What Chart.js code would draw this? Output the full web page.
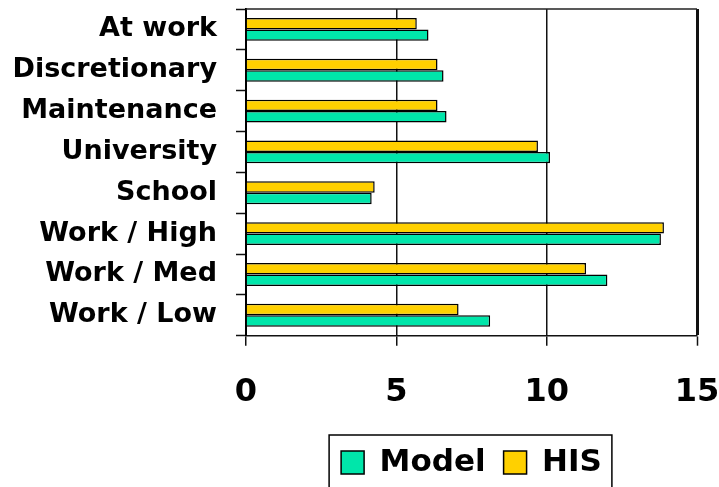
<!DOCTYPE html>
<html>
<head>
<meta charset="utf-8">
<script src="https://cdn.jsdelivr.net/npm/chart.js@4/dist/chart.umd.min.js"></script>
<style>
html,body{margin:0;padding:0;background:#fff;}
#wrap{width:719px;height:487px;position:relative;}
</style>
</head>
<body>
<div id="wrap"><canvas id="c" width="719" height="487"></canvas></div>
<script>
const categories = ["At work","Discretionary","Maintenance","University","School","Work / High","Work / Med","Work / Low"];
const modelValues = [6.07, 6.57, 6.67, 10.11, 4.18, 13.8, 12.02, 8.12];
const hisValues   = [5.68, 6.37, 6.37, 9.71, 4.28, 13.9, 11.31, 7.07];
const xTicks = [0, 5, 10, 15];

const frame = {
  id: 'frame',
  beforeDraw(chart) {
    const lg = chart.legend;
    const a = chart.chartArea;
    if (lg) {
      lg.left = a.left; lg.right = a.right; lg.width = a.right - a.left;
      lg.adjustHitBoxes();
    }
  },
  afterDraw(chart) {
    const {ctx, chartArea: a} = chart;
    ctx.save();
    ctx.strokeStyle = '#222';
    ctx.lineWidth = 1.5;
    ctx.beginPath();
    ctx.moveTo(a.left, a.top);
    ctx.lineTo(a.right, a.top);
    ctx.stroke();
    const lg = chart.legend;
    if (lg && lg.legendHitBoxes && lg.legendHitBoxes.length) {
      const hb = lg.legendHitBoxes;
      let l = Infinity, r = -Infinity;
      hb.forEach(b => { l = Math.min(l, b.left); r = Math.max(r, b.left + b.width); });
      ctx.strokeStyle = '#000';
      ctx.lineWidth = 1.5;
      ctx.strokeRect(l - 12, lg.top + 6, (r - l) + 22, chart.height);
    }
    ctx.restore();
  }
};

Chart.defaults.font.family = "'DejaVu Sans', Verdana, sans-serif";
Chart.defaults.font.weight = 'bold';
Chart.defaults.color = '#000';

function noPad(s) { s.paddingTop = 0; s.paddingBottom = 0; s.paddingLeft = 0; s.paddingRight = 0; }

new Chart(document.getElementById('c'), {
  type: 'bar',
  data: {
    labels: categories,
    datasets: [
      { label: 'HIS', data: hisValues, backgroundColor: '#FFD000', borderColor: '#000', borderWidth: 1.5 },
      { label: 'Model', data: modelValues, backgroundColor: '#00E6AA', borderColor: '#000', borderWidth: 1.5 }
    ]
  },
  options: {
    indexAxis: 'y',
    responsive: false,
    animation: false,
    devicePixelRatio: 1,
    categoryPercentage: 0.56,
    barPercentage: 1,
    layout: { padding: { top: 9, left: 0, right: 22, bottom: -1 } },
    plugins: {
      tooltip: { enabled: false },
      legend: {
        position: 'bottom',
        reverse: true,
        labels: {
          boxWidth: 23, boxHeight: 23, padding: 18,
          color: '#000',
          font: { size: 31, weight: 'bold' }
        }
      }
    },
    scales: {
      x: {
        min: 0, max: 15,
        afterBuildTicks(s) { s.ticks = xTicks.map(v => ({value: v})); },
        afterFit(s) { s.height = 93.3; noPad(s); },
        ticks: { font: { size: 32, weight: 'bold' }, color: '#000', padding: 28 },
        grid: {
          color: '#111',
          lineWidth: ctx => (ctx.tick && ctx.tick.value === 15) ? 3 : 1.5,
          tickColor: '#111', tickWidth: 1.5, tickLength: 10
        },
        border: { display: true, color: '#111', width: 1.5 }
      },
      y: {
        afterFit(s) { s.width = 246; noPad(s); },
        ticks: { font: { size: 27, weight: 'bold' }, color: '#000', padding: 19 },
        grid: { drawOnChartArea: false, drawTicks: true, tickLength: 10, color: '#111', tickWidth: 1.5, offset: true },
        border: { display: true, color: '#000', width: 2 }
      }
    }
  },
  plugins: [frame]
});
</script>
</body>
</html>
